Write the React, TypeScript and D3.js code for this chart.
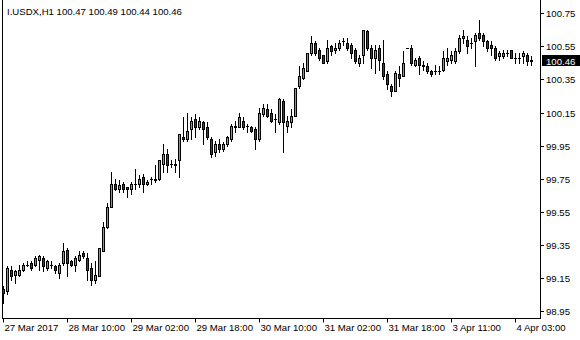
import React from "react";
import * as d3 from "d3";

const symbolTitle = "I.USDX,H1  100.47 100.49 100.44 100.46";
const lastPrice = 100.46;

const opens = [
  99.08, 99.07, 99.20, 99.17, 99.17, 99.20, 99.23, 99.24, 99.23, 99.26,
  99.27, 99.21, 99.23, 99.22, 99.18, 99.24, 99.32, 99.25, 99.23, 99.26,
  99.30, 99.27, 99.21, 99.14, 99.16, 99.31, 99.46, 99.58, 99.72, 99.69,
  99.72, 99.70, 99.69, 99.72, 99.72, 99.76, 99.72, 99.75, 99.74, 99.75,
  99.84, 99.90, 99.84, 99.83, 99.86, 100.00, 99.99, 100.05, 100.11, 100.06,
  100.09, 100.06, 99.99, 99.91, 99.96, 99.93, 99.96, 99.99, 100.07, 100.06,
  100.10, 100.07, 100.06, 100.05, 99.99, 100.14, 100.17, 100.15, 100.11, 100.09,
  100.22, 100.07, 100.09, 100.13, 100.31, 100.36, 100.40, 100.51, 100.57, 100.53,
  100.50, 100.46, 100.55, 100.53, 100.54, 100.58, 100.57, 100.56, 100.53, 100.45,
  100.50, 100.64, 100.54, 100.48, 100.54, 100.45, 100.38, 100.31, 100.28, 100.38,
  100.37, 100.54, 100.54, 100.44, 100.48, 100.44, 100.43, 100.40, 100.40, 100.40,
  100.41, 100.46, 100.47, 100.46, 100.52, 100.60, 100.59, 100.57, 100.58, 100.63,
  100.62, 100.58, 100.56, 100.54, 100.49, 100.49, 100.51, 100.53, 100.48, 100.48,
  100.49, 100.50, 100.47,
];

const highs = [
  99.10, 99.22, 99.22, 99.20, 99.23, 99.24, 99.25, 99.25, 99.28, 99.29,
  99.28, 99.26, 99.25, 99.23, 99.24, 99.36, 99.33, 99.26, 99.28, 99.31,
  99.31, 99.30, 99.24, 99.25, 99.33, 99.49, 99.60, 99.79, 99.75, 99.74,
  99.73, 99.70, 99.73, 99.81, 99.77, 99.78, 99.74, 99.76, 99.83, 99.86,
  99.96, 99.93, 99.86, 99.87, 100.02, 100.12, 100.15, 100.12, 100.14, 100.12,
  100.10, 100.09, 100.00, 99.98, 99.99, 99.97, 100.01, 100.08, 100.10, 100.15,
  100.12, 100.08, 100.07, 100.06, 100.18, 100.20, 100.20, 100.17, 100.14, 100.24,
  100.23, 100.13, 100.17, 100.30, 100.43, 100.45, 100.51, 100.61, 100.58, 100.54,
  100.50, 100.59, 100.56, 100.57, 100.59, 100.60, 100.60, 100.57, 100.54, 100.50,
  100.65, 100.65, 100.56, 100.56, 100.56, 100.59, 100.40, 100.32, 100.40, 100.43,
  100.52, 100.54, 100.56, 100.48, 100.49, 100.46, 100.45, 100.41, 100.44, 100.43,
  100.52, 100.54, 100.52, 100.54, 100.62, 100.65, 100.61, 100.60, 100.63, 100.71,
  100.63, 100.59, 100.58, 100.55, 100.52, 100.53, 100.53, 100.53, 100.51, 100.51,
  100.52, 100.51, 100.49,
];

const lows = [
  99.00, 99.05, 99.14, 99.12, 99.16, 99.19, 99.22, 99.20, 99.22, 99.20,
  99.19, 99.20, 99.21, 99.18, 99.15, 99.23, 99.16, 99.22, 99.19, 99.25,
  99.27, 99.14, 99.11, 99.12, 99.16, 99.31, 99.45, 99.58, 99.68, 99.67,
  99.67, 99.64, 99.66, 99.69, 99.70, 99.67, 99.71, 99.72, 99.73, 99.74,
  99.79, 99.79, 99.82, 99.79, 99.76, 99.98, 99.98, 99.99, 100.00, 100.05,
  99.96, 99.99, 99.88, 99.89, 99.91, 99.92, 99.95, 99.98, 100.03, 100.06,
  100.05, 100.03, 100.03, 99.93, 99.98, 100.13, 100.12, 100.09, 100.03, 100.08,
  99.91, 100.03, 100.06, 100.13, 100.30, 100.35, 100.40, 100.50, 100.50, 100.47,
  100.45, 100.45, 100.50, 100.51, 100.53, 100.56, 100.53, 100.48, 100.45, 100.43,
  100.45, 100.53, 100.42, 100.39, 100.41, 100.35, 100.29, 100.25, 100.28, 100.31,
  100.37, 100.54, 100.44, 100.43, 100.38, 100.41, 100.39, 100.37, 100.38, 100.38,
  100.40, 100.44, 100.45, 100.45, 100.51, 100.57, 100.51, 100.54, 100.43, 100.59,
  100.55, 100.52, 100.50, 100.47, 100.47, 100.48, 100.49, 100.48, 100.45, 100.45,
  100.45, 100.44, 100.44,
];

const closes = [
  99.06, 99.21, 99.16, 99.19, 99.20, 99.23, 99.23, 99.21, 99.27, 99.28,
  99.22, 99.25, 99.23, 99.20, 99.23, 99.31, 99.24, 99.23, 99.27, 99.29,
  99.28, 99.20, 99.14, 99.17, 99.33, 99.46, 99.58, 99.72, 99.69, 99.71,
  99.69, 99.69, 99.72, 99.72, 99.75, 99.72, 99.73, 99.75, 99.75, 99.86,
  99.90, 99.83, 99.84, 99.84, 100.02, 99.99, 100.04, 100.10, 100.06, 100.10,
  100.05, 100.00, 99.90, 99.96, 99.93, 99.96, 100.00, 100.07, 100.06, 100.12,
  100.06, 100.07, 100.04, 99.99, 100.15, 100.18, 100.13, 100.10, 100.11, 100.23,
  100.09, 100.10, 100.13, 100.30, 100.37, 100.42, 100.51, 100.57, 100.51, 100.48,
  100.45, 100.54, 100.52, 100.54, 100.57, 100.58, 100.54, 100.51, 100.46, 100.48,
  100.65, 100.54, 100.48, 100.53, 100.47, 100.37, 100.32, 100.28, 100.39, 100.36,
  100.45, 100.54, 100.45, 100.47, 100.44, 100.43, 100.40, 100.38, 100.40, 100.40,
  100.48, 100.48, 100.50, 100.52, 100.60, 100.61, 100.55, 100.57, 100.62, 100.60,
  100.58, 100.54, 100.54, 100.48, 100.51, 100.51, 100.51, 100.48, 100.48, 100.48,
  100.51, 100.46, 100.46,
];

const priceTicks = [100.75, 100.55, 100.35, 100.15, 99.95, 99.75, 99.55, 99.35, 99.15, 98.95];
const timeTickBars = [0, 16, 32, 48, 64, 80, 96, 112, 128];
const timeTickLabels = [
  "27 Mar 2017", "28 Mar 10:00", "29 Mar 02:00", "29 Mar 18:00", "30 Mar 10:00",
  "31 Mar 02:00", "31 Mar 18:00", "3 Apr 11:00", "4 Apr 03:00",
];

const W = 580;
const H = 340;
const FONT = "Tahoma, 'Liberation Sans', Arial, sans-serif";
const FS = 9.6;
const BULL = "#22dd22";
const BEAR = "#d00000";

export default function App() {
  const n = opens.length;
  const x = d3.scaleLinear().domain([0, n - 1]).range([3, 3 + 4 * (n - 1)]);
  const y = d3.scaleLinear().domain([98.95, 100.75]).range([311, 13.3]);
  const px = (v: number) => Math.round(y(v));
  const frameRight = 540.5;
  const frameBottom = 318.5;

  const candles = d3.range(n).map((i) => {
    const c = Math.round(x(i));
    const o = opens[i], cl = closes[i];
    const top = px(Math.max(o, cl));
    const bot = px(Math.min(o, cl));
    const hi = px(highs[i]);
    const lo = px(lows[i]);
    const bull = cl > o;
    return (
      <g key={i}>
        <line x1={c + 0.5} x2={c + 0.5} y1={hi} y2={lo + 1} stroke="#000" strokeWidth={1} />
        {top === bot ? (
          <line x1={c - 1} x2={c + 2} y1={top + 0.5} y2={top + 0.5} stroke="#000" strokeWidth={1} />
        ) : (
          <rect x={c - 0.5} y={top + 0.5} width={2} height={bot - top}
            fill={bull ? BULL : BEAR} stroke="#000" strokeWidth={1} />
        )}
      </g>
    );
  });

  const yLast = px(lastPrice);

  return (
    <svg width={W} height={H} style={{ position: "absolute", left: 0, top: 0, background: "#fff" }}
      fontFamily={FONT} fontSize={FS}>
      <rect x={0} y={0} width={W} height={H} fill="#fff" />
      <g>{candles}</g>
      <line x1={2.5} x2={2.5} y1={0} y2={frameBottom} stroke="#000" />
      <line x1={frameRight} x2={frameRight} y1={0} y2={frameBottom} stroke="#000" />
      <line x1={2} x2={frameRight + 0.5} y1={frameBottom} y2={frameBottom} stroke="#000" />
      {priceTicks.map((t) => {
        const ty = px(t) + 0.5;
        return (
          <g key={t}>
            <line x1={541} x2={544} y1={ty} y2={ty} stroke="#000" />
            <text x={546} y={ty + 3.5} fill="#000">{t.toFixed(2)}</text>
          </g>
        );
      })}
      <rect x={542} y={yLast - 6} width={38} height={11} fill="#000" />
      <text x={546} y={yLast + 3.5} fill="#fff">{lastPrice.toFixed(2)}</text>
      {timeTickBars.map((b, k) => {
        const tx = Math.round(x(b)) + 0.5;
        return (
          <g key={b}>
            <line x1={tx} x2={tx} y1={frameBottom} y2={frameBottom + 4} stroke="#000" />
            <text x={tx + 1} y={331} fill="#000">{timeTickLabels[k]}</text>
          </g>
        );
      })}
      <text x={7} y={15} fill="#000">{symbolTitle}</text>
    </svg>
  );
}
